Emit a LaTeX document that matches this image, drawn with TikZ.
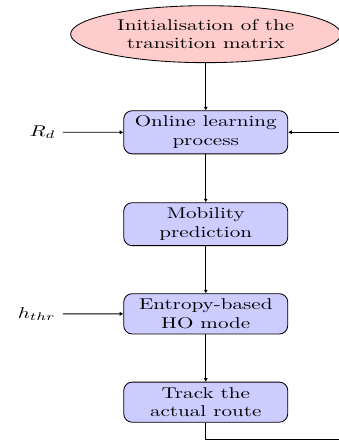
\documentclass[tikz,border=0pt]{standalone}
\usepackage{amsmath}
\usepackage{xcolor}
\usetikzlibrary{arrows,arrows.meta,shapes.geometric}
\tikzset{>={Latex[length=1.7pt,width=2pt]}}
\tikzset{
	block/.style={rectangle,draw,rounded corners,fill=blue!20,text width=2.5cm,align=center},
	start/.style={ellipse,draw,fill=red!20,align=center}
}

\begin{document}
\begin{tikzpicture}[yscale=0.74,transform shape]
		\clip (0,0) rectangle (5.65,-10.07);

		\node[start] (init) at (3.43,-0.77) {Initialisation of the\\transition matrix};
		\node[block] (learn) at (3.43,-2.98) {Online learning\\process};
		\node[block] (pred) at (3.43,-5.05) {Mobility\\prediction};
		\node[block] (ho) at (3.43,-7.07) {Entropy-based\\HO mode};
		\node[block] (track) at (3.43,-9.06) {Track the\\actual route};

		\node[anchor=east] (rd) at (1.05,-2.98) {$R_d$};
		\node[anchor=east] (hthr) at (1.05,-7.07) {$h_{thr}$};
		\coordinate (loop) at (6.2,-9.91);

		\draw[->] (init) -- (learn);
		\draw[->] (learn) -- (pred);
		\draw[->] (pred) -- (ho);
		\draw[->] (ho) -- (track);
		\draw[->] (rd) -- (learn);
		\draw[->] (hthr) -- (ho);
		\draw[->] (track.south) |- (loop) |- (learn.east);
	\end{tikzpicture}
\end{document}
